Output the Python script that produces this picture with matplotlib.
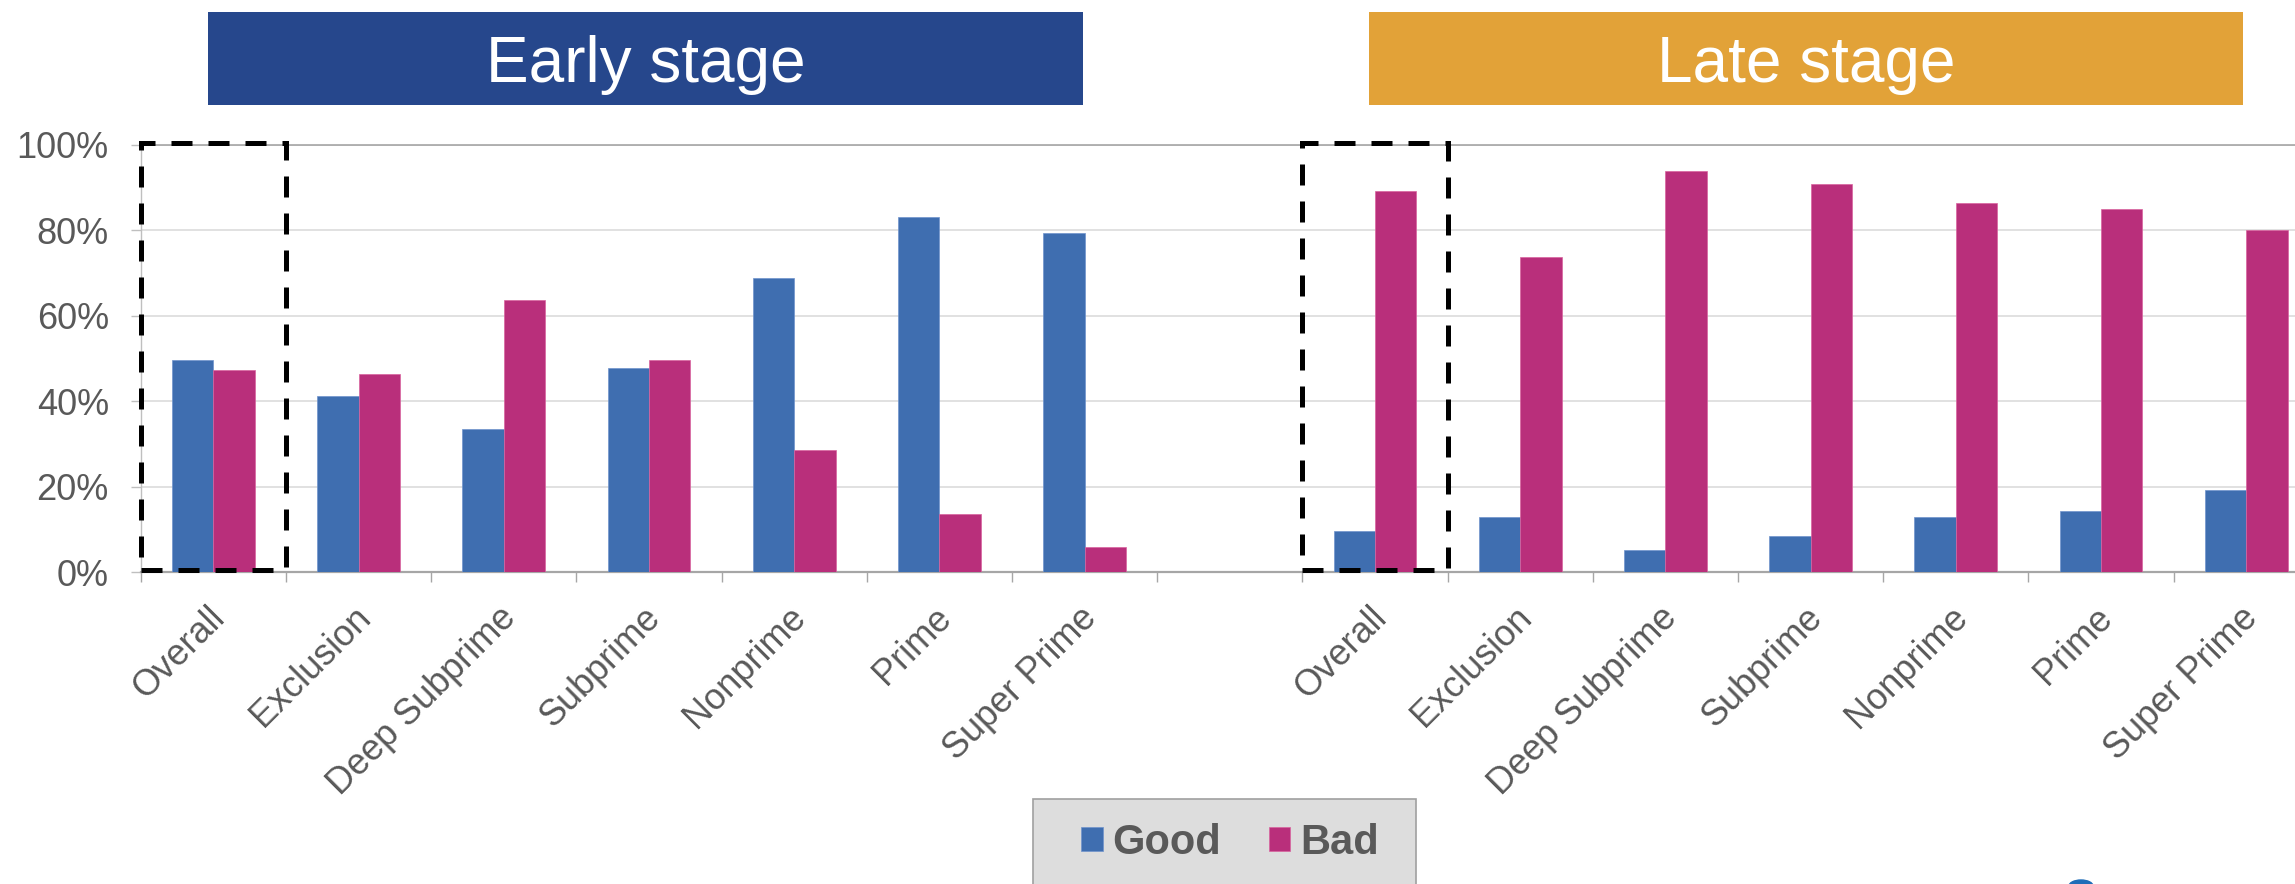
import numpy as np
import matplotlib
matplotlib.use('Agg')
from matplotlib import pyplot as plt
from matplotlib.patches import Rectangle, Ellipse
from matplotlib.ticker import PercentFormatter, FixedLocator
from matplotlib.transforms import ScaledTranslation

plt.rcParams['font.family'] = ['Liberation Sans', 'DejaVu Sans']

# share of loans ending Good / Bad, by credit tier (percent)
categories = ['Overall', 'Exclusion', 'Deep Subprime', 'Subprime',
              'Nonprime', 'Prime', 'Super Prime']
early_good = [49.7, 41.3, 33.4, 47.8, 68.8, 83.0, 79.3]
early_bad = [47.4, 46.3, 63.6, 49.7, 28.6, 13.7, 5.8]
late_good = [9.6, 12.9, 5.2, 8.5, 12.9, 14.4, 19.2]
late_bad = [89.2, 73.7, 93.9, 90.7, 86.4, 85.0, 80.0]
stages = ['Early stage', 'Late stage']
series = ['Good', 'Bad']

BLUE, MAGENTA = '#3F6EB0', '#B92F7B'
GREY_TXT = '#595959'
W, H = 2295, 884                       # canvas size in pixels


def px(x, y, w=0, h=0):
    """pixel box (from top-left) -> figure fraction (left, bottom, w, h)"""
    return x / W, 1 - (y + h) / H, w / W, h / H


fig = plt.figure(figsize=(W / 100, H / 100), dpi=100)
ax = fig.add_axes(px(140.8, 144.7, 15 * 145.2, 572.3 - 144.7))

n = len(categories)
xe = np.arange(n)                  # early group
xl = np.arange(n) + n + 1          # late group, one empty slot between
bw = 1 / 3.5
good = ax.bar(np.r_[xe, xl] - bw / 2, early_good + late_good, bw, color=BLUE,
              edgecolor='#6F93CC', linewidth=0.5, label=series[0], zorder=3)
bad = ax.bar(np.r_[xe, xl] + bw / 2, early_bad + late_bad, bw, color=MAGENTA,
             edgecolor='#D9639F', linewidth=0.5, label=series[1], zorder=3)

ax.set_xlim(-0.5, 2 * n + 0.5)
ax.set_ylim(0, 100)
ax.set_yticks(np.arange(0, 101, 20))
ax.yaxis.set_major_formatter(PercentFormatter(100, decimals=0))
ax.grid(axis='y', color='#D9D9D9', linewidth=1.1, zorder=0)
ax.tick_params(axis='y', length=7.2, width=1, color='#BFBFBF', pad=15.8,
               labelsize=26, labelcolor=GREY_TXT)

# category labels at centres, tick marks on the boundaries
ax.xaxis.set_major_locator(FixedLocator(list(np.r_[xe, xl])))
ax.set_xticklabels(categories + categories)
ax.xaxis.set_minor_locator(FixedLocator(list(np.arange(-0.5, 2 * n + 1, 1.0))))
ax.tick_params(axis='x', which='major', length=0, pad=20)
ax.tick_params(axis='x', which='minor', length=7.2, width=1, color='#A6A6A6')
nudge = ScaledTranslation(-6 / 100, 0, fig.dpi_scale_trans)
for lab in ax.get_xticklabels():
    lab.set_rotation(45)
    lab.set_rotation_mode('anchor')
    lab.set_ha('right')
    lab.set_va('top')
    lab.set_fontsize(26)
    lab.set_color(GREY_TXT)
    lab.set_transform(lab.get_transform() + nudge)

ax.spines['right'].set_visible(False)
ax.spines['top'].set_color('#A6A6A6')
ax.spines['top'].set_linewidth(1.2)
ax.spines['left'].set_color('#BFBFBF')
ax.spines['left'].set_linewidth(1.0)
ax.spines['bottom'].set_color('#A6A6A6')
ax.spines['bottom'].set_linewidth(1.6)

# dashed frames around the two "Overall" groups
for x0 in (xe[0], xl[0]):
    ax.add_patch(Rectangle((x0 - 0.5, 0.6), 1.0, 99.8, fill=False,
                           edgecolor='black', linewidth=3.6,
                           linestyle=(0, (4.2, 3.2)), zorder=5, clip_on=False))

# stage banners
for (x0, x1), label, col in zip([(208, 1083), (1369, 2243)], stages,
                                ['#26478C', '#E2A238']):
    bx = fig.add_axes(px(x0, 12, x1 - x0, 93))
    bx.set_facecolor(col)
    bx.set_xticks([])
    bx.set_yticks([])
    for s in bx.spines.values():
        s.set_visible(False)
    bx.text(0.5, (105 - 82) / 93, label, ha='center', va='baseline',
            fontsize=46, color='white', transform=bx.transAxes)

# legend panel, running off the bottom edge
fig.patches.append(Rectangle(px(1033, 799)[:2], 383 / W, -120 / H,
                             transform=fig.transFigure, facecolor='#DDDDDD',
                             edgecolor='#A0A0A0', linewidth=1.2))
leg = fig.legend(handles=[good, bad], labels=series, ncol=2, frameon=False,
                 loc='center', bbox_to_anchor=(1230 / W, 1 - 843 / H),
                 prop={'size': 30, 'weight': 'bold'},
                 handlelength=0.52, handleheight=0.52, handletextpad=0.24,
                 columnspacing=1.14, borderpad=0)
for t in leg.get_texts():
    t.set_color(GREY_TXT)

# small logo edge peeking in at the bottom
fig.patches.append(Ellipse((2081 / W, -2 / H), 24 / W, 12 / H,
                           transform=fig.transFigure, color='#1F6DB8'))

fig.savefig('out.png', dpi=100)
